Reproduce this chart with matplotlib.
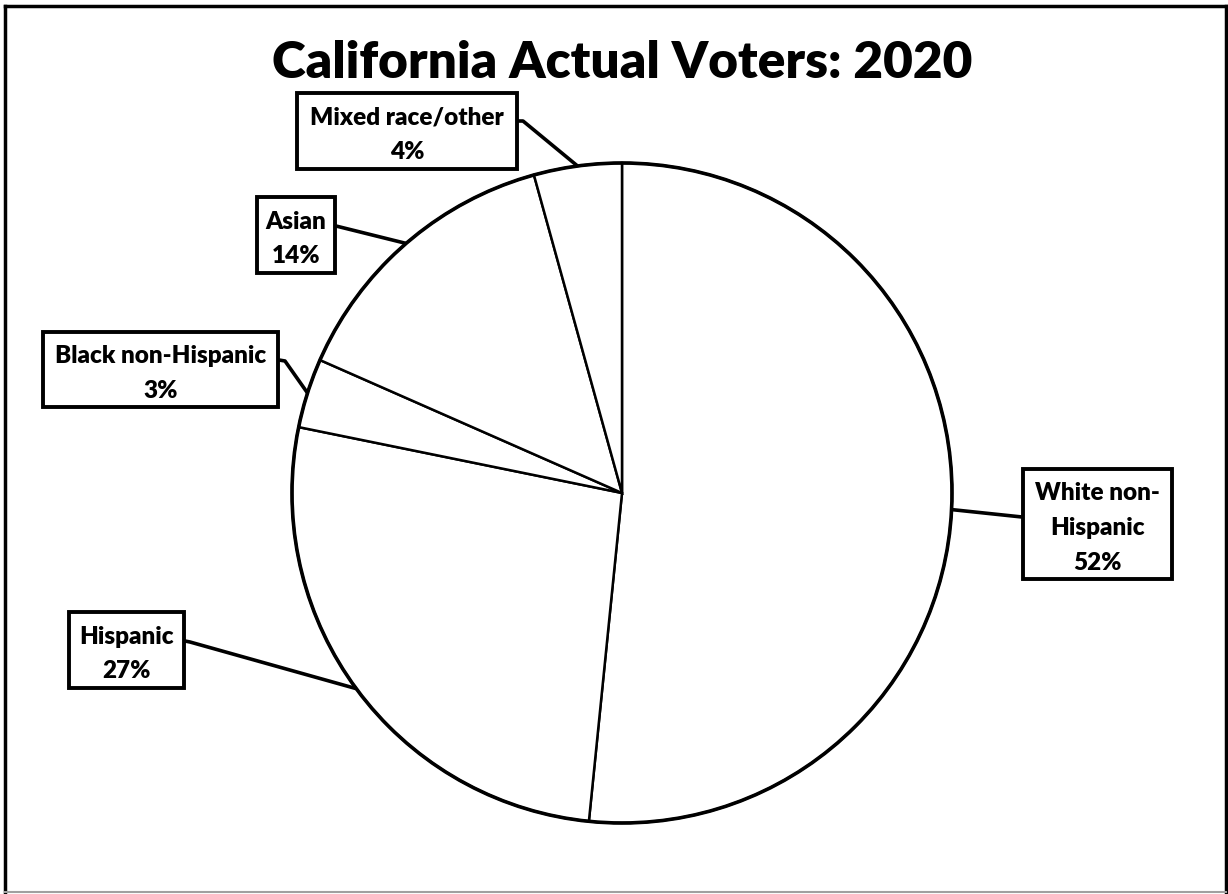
import matplotlib
matplotlib.use('Agg')
import matplotlib.pyplot as plt
from matplotlib.patches import Rectangle, Circle
import numpy as np

categories = ['White non-\nHispanic', 'Hispanic', 'Black non-Hispanic', 'Asian', 'Mixed race/other']
shares = [51.6, 26.6, 3.4, 14.1, 4.3]
pct_labels = ['52%', '27%', '3%', '14%', '4%']
title = 'California Actual Voters: 2020'

FONT = 'Lato'
W, H = 1228, 895
fig = plt.figure(figsize=(W / 100, H / 100), dpi=100)
ax = fig.add_axes([0, 0, 1, 1])

def Y(py):
    return H - py

cx, cy, R = 622, 494, 330
wedges, _ = ax.pie(shares, startangle=90, counterclock=False, center=(cx, Y(cy)), radius=R,
                   colors=['white'] * len(shares),
                   wedgeprops=dict(edgecolor='black', linewidth=1.8), frame=True)
ax.add_patch(Circle((cx, Y(cy)), R, fill=False, lw=2.6, ec='black', zorder=3))
ax.set_xlim(0, W)
ax.set_ylim(0, H)
ax.set_aspect('equal')
ax.axis('off')

# label boxes in pixel coords: (left, top, right, bottom), connector start (x,y), elbow
boxes = [
    (1023, 470, 1172, 580, (1022, 518), None),
    (69, 613, 184, 689, (185, 642), (190, 643)),
    (43, 333, 278, 408, (279, 361), (285, 362)),
    (257, 198, 335, 274, (336, 227), None),
    (297, 94, 517, 170, (518, 122), (523, 122)),
]

for w, cat, pct, (l, t, r, b, st, el) in zip(wedges, categories, pct_labels, boxes):
    ang = np.deg2rad((w.theta1 + w.theta2) / 2)
    ex, ey = cx + R * np.cos(ang), Y(cy) + R * np.sin(ang)
    xs = [st[0]] + ([el[0]] if el else []) + [ex]
    ys = [Y(st[1])] + ([Y(el[1])] if el else []) + [ey]
    ax.plot(xs, ys, color='black', lw=2.6, solid_capstyle='butt', zorder=4)
    ax.add_patch(Rectangle((l, Y(b)), r - l, b - t, fill=True, fc='white', ec='black', lw=2.8, zorder=5))
    ax.text((l + r) / 2, Y((t + b) / 2 + 3), cat + '\n' + pct, ha='center', va='center',
            fontsize=17.5, fontweight='heavy', family=FONT, linespacing=1.72, zorder=6)

ax.text(622, Y(63), title, ha='center', va='center', fontsize=37, fontweight='heavy', family=FONT)

# outer frame
ax.plot([5, 5], [Y(893), Y(7)], color='black', lw=2.5, clip_on=False)
ax.plot([5, 1226], [Y(7), Y(7)], color='black', lw=2.5, clip_on=False)
ax.plot([1226, 1226], [Y(7), Y(893)], color='black', lw=2.5, clip_on=False)
ax.plot([5, 1226], [Y(893), Y(893)], color='#a0a0a0', lw=1.5, clip_on=False)

fig.savefig('out.png', dpi=100, facecolor='white')
